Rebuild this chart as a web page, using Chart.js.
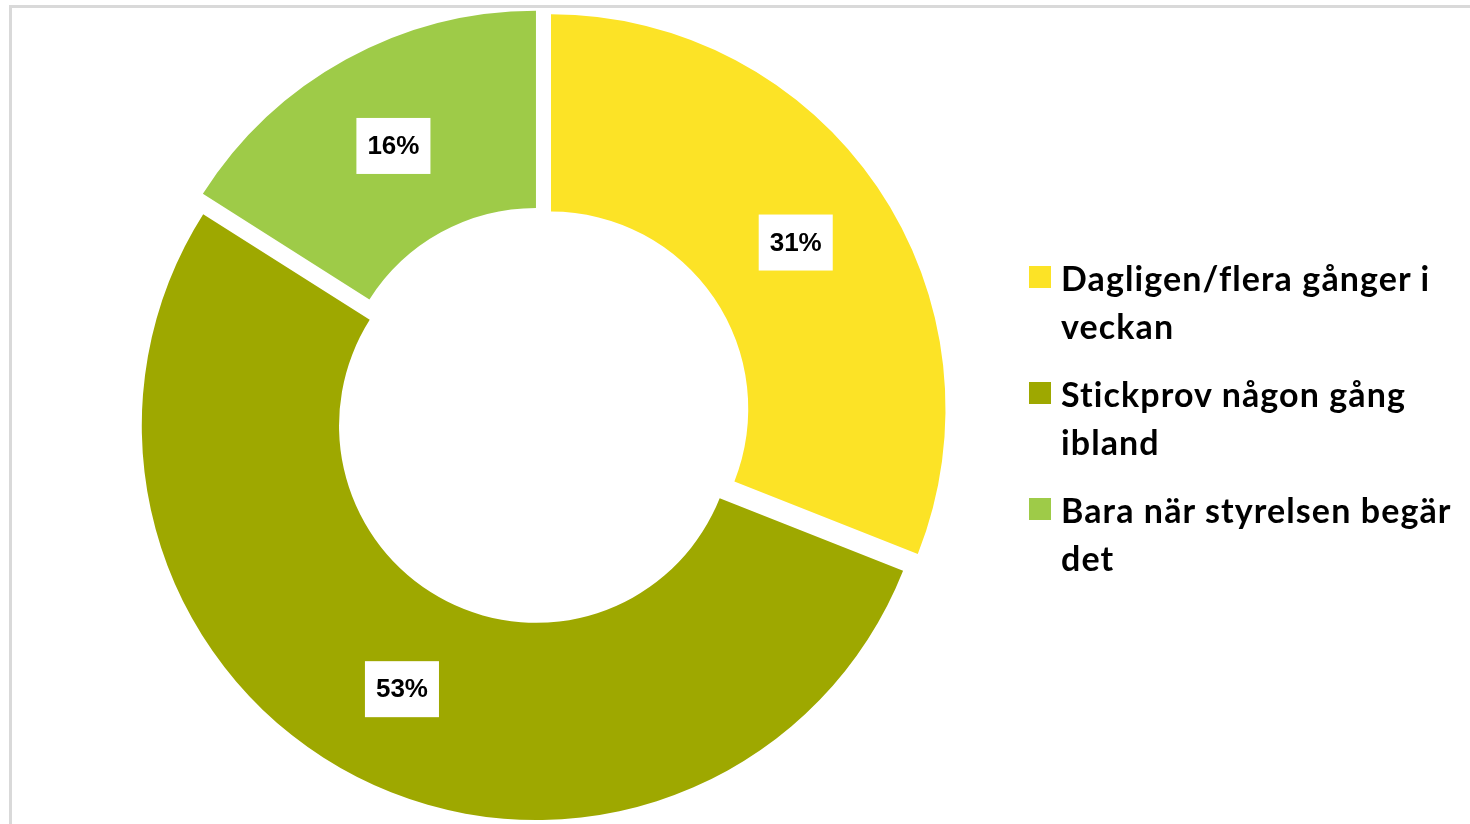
<!DOCTYPE html>
<html>
<head>
<meta charset="utf-8">
<script src="https://cdn.jsdelivr.net/npm/chart.js@4/dist/chart.umd.min.js"></script>
<style>
  html, body { margin: 0; padding: 0; background: #fff; }
  #wrap { position: relative; width: 1470px; height: 824px; overflow: hidden; }
  #frame {
    position: absolute; left: 9px; top: 5px; width: 1500px; height: 900px;
    border-top: 3px solid #d9d9d9; border-left: 3px solid #d9d9d9;
  }
  #pie { position: absolute; left: 0; top: -40px; }
  #legend { position: absolute; left: 1029px; top: 254px; font-family: Lato, sans-serif; font-weight: bold; }
  .item { position: relative; padding-left: 32px; margin-bottom: 21px; font-size: 34px; line-height: 47.5px; letter-spacing: 1.1px; color: #000; white-space: nowrap; }
  .box { position: absolute; left: 0; top: 12px; width: 22px; height: 22px; }
</style>
</head>
<body>
<div id="wrap">
  <div id="frame"></div>
  <canvas id="pie" width="1470" height="900"></canvas>
  <div id="legend"></div>
</div>
<script>
// svarsalternativ (flerradiga etiketter) och andelar i procent
const labels = [
  ['Dagligen/flera gånger i', 'veckan'],
  ['Stickprov någon gång', 'ibland'],
  ['Bara när styrelsen begär', 'det']
];
const shares = [31, 53, 16];
const colors = ['#fce326', '#9ea800', '#9ecb48'];

// hur långt varje sektor flyttas ut (px)
const EXPLODE = 11.5;

// Chart.js inbyggda offset gör halvcirklar större, så vi flyttar ut själva
class ExplodedArc extends Chart.ArcElement {
  draw(ctx) {
    const mid = (this.startAngle + this.endAngle) / 2;
    ctx.save();
    ctx.translate(Math.cos(mid) * EXPLODE, Math.sin(mid) * EXPLODE);
    super.draw(ctx);
    ctx.restore();
  }
}
ExplodedArc.id = 'explodedArc';

class ExplodedDoughnut extends Chart.DoughnutController {}
ExplodedDoughnut.id = 'explodedDoughnut';
ExplodedDoughnut.defaults = Object.assign({}, Chart.DoughnutController.defaults, { dataElementType: 'explodedArc' });

Chart.register(ExplodedArc, ExplodedDoughnut);

// vit ruta med procentsatsen mitt i varje sektor
const valueBoxes = {
  id: 'valueBoxes',
  afterDatasetsDraw(chart) {
    const ctx = chart.ctx;
    const meta = chart.getDatasetMeta(0);
    ctx.save();
    ctx.font = 'bold 26px "Liberation Sans", Arial, sans-serif';
    ctx.textAlign = 'center';
    ctx.textBaseline = 'middle';
    meta.data.forEach((arc, i) => {
      const a = arc.getProps(['x', 'y', 'startAngle', 'endAngle', 'innerRadius', 'outerRadius']);
      const mid = (a.startAngle + a.endAngle) / 2;
      const r = (a.innerRadius + a.outerRadius) / 2 + EXPLODE;
      const px = a.x + Math.cos(mid) * r;
      const py = a.y + Math.sin(mid) * r;
      const txt = shares[i] + '%';
      const w = ctx.measureText(txt).width + 22;
      ctx.fillStyle = '#fff';
      ctx.fillRect(px - w / 2, py - 28, w, 56);
      ctx.fillStyle = '#000';
      ctx.fillText(txt, px, py + 1);
    });
    ctx.restore();
  }
};

new Chart(document.getElementById('pie'), {
  type: 'explodedDoughnut',
  data: {
    labels: labels,
    datasets: [{
      data: shares,
      backgroundColor: colors,
      borderWidth: 0,
      clip: false
    }]
  },
  options: {
    responsive: false,
    animation: false,
    radius: 394.5,
    cutout: '50%',
    layout: { padding: { top: 40, bottom: 29.4, left: 125.5, right: 512.5 } },
    plugins: {
      legend: { display: false },
      tooltip: { enabled: false }
    }
  },
  plugins: [valueBoxes]
});

// legenden byggs från samma listor
const legend = document.getElementById('legend');
labels.forEach((lines, i) => {
  const item = document.createElement('div');
  item.className = 'item';
  item.innerHTML = `<span class="box" style="background:${colors[i]}"></span>${lines.join('<br>')}`;
  legend.appendChild(item);
});
</script>
</body>
</html>
